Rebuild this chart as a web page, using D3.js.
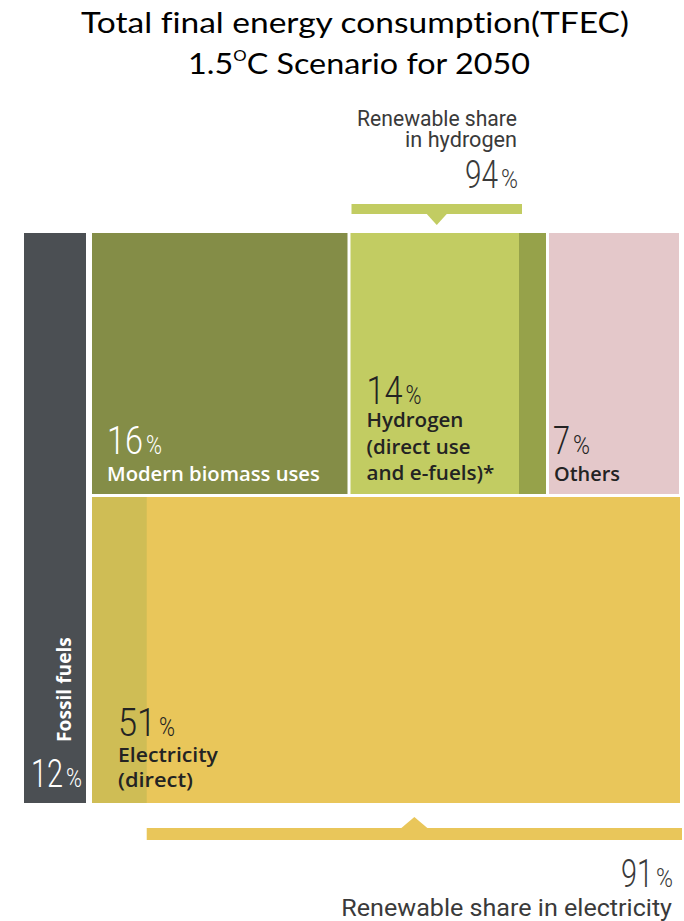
<!DOCTYPE html>
<html>
<head>
<meta charset="utf-8">
<script src="https://cdn.jsdelivr.net/npm/d3@7"></script>
<style>
  html, body { margin: 0; padding: 0; background: #fff; }
  svg { display: block; }
  text { font-variant-ligatures: none; font-feature-settings: "liga" 0, "clig" 0; }
</style>
</head>
<body>
<svg id="chart" width="684" height="921"></svg>
<script>
// Total final energy consumption by carrier, 2050 (percent of TFEC)
const categories = ["Fossil fuels", "Modern biomass uses", "Hydrogen", "Others", "Electricity"];
const shares = [12, 16, 14, 7, 51];
const labelLines = [
  ["Fossil fuels"],
  ["Modern biomass uses"],
  ["Hydrogen", "(direct use", "and e-fuels)*"],
  ["Others"],
  ["Electricity", "(direct)"]
];
// Renewable share inside the two energy carriers (percent)
const carriers = ["hydrogen", "electricity"];
const renewableShares = [94, 91];
const titleLines = ["Total final energy consumption(TFEC)", "1.5", "O", "C Scenario for 2050"];

const svg = d3.select("#chart");

const fillColors = {
  "Fossil fuels": "#4b4f53",
  "Modern biomass uses": "#848d47",
  "Hydrogen": "#c2cc62",
  "Others": "#e4c8ca",
  "Electricity": "#e9c65a"
};
const stripColors = { hydrogen: "#96a24a", electricity: "#cfbd55" };
const textDark = "#232323";
const numFont = "Roboto, 'Liberation Sans', sans-serif";
const labelFont = "'Open Sans', 'Liberation Sans', sans-serif";

// ---- layout scales -------------------------------------------------------
const gap = 3;
const fossilShare = shares[0];
const topShares = shares.slice(1, 4);
const topTotal = d3.sum(topShares);
const elecShare = shares[4];
const restTotal = topTotal + elecShare;

// fossil column on the left, everything else in the right block
const xOuter = d3.scaleLinear().domain([0, fossilShare, 100]).range([24, 89, 680]);
// right block: first row (biomass, hydrogen, others), second row electricity
const yRest = d3.scaleLinear().domain([0, topTotal, restTotal]).range([233, 495.5, 803]);
const topCum = [0, ...d3.cumsum(topShares)];
const xTop = d3.scaleLinear().domain(topCum).range([xOuter(fossilShare) + gap, 349, 547.5, xOuter(100) - 1]);

const blocks = [];
blocks.push({ name: categories[0], value: shares[0], x0: xOuter(0), x1: xOuter(fossilShare) - gap, y0: yRest(0), y1: yRest(restTotal) });
topShares.forEach((v, i) => {
  blocks.push({
    name: categories[i + 1], value: v,
    x0: xTop(topCum[i]) + (i > 0 ? gap / 2 : 0),
    x1: xTop(topCum[i + 1]) - (i < topShares.length - 1 ? gap / 2 : 0),
    y0: yRest(0), y1: yRest(topTotal) - gap / 2
  });
});
blocks.push({ name: categories[4], value: elecShare, x0: xOuter(fossilShare) + gap, x1: xOuter(100), y0: yRest(topTotal) + gap / 2, y1: yRest(restTotal) });

svg.append("g").selectAll("rect").data(blocks).join("rect")
  .attr("x", d => d.x0).attr("y", d => d.y0)
  .attr("width", d => d.x1 - d.x0).attr("height", d => d.y1 - d.y0)
  .attr("fill", d => fillColors[d.name]);

// ---- non-renewable strips inside hydrogen and electricity -----------------
const hyd = blocks[2], ele = blocks[4];
const minStrip = 27;
const xHyd = d3.scaleLinear().domain([0, 100]).range([hyd.x0, hyd.x1]);
const hydStripW = Math.max(xHyd(100) - xHyd(renewableShares[0]), minStrip);
const hydStrip = { x0: hyd.x1 - hydStripW, x1: hyd.x1, y0: hyd.y0, y1: hyd.y1 };
const xEle = d3.scaleLinear().domain([0, 100]).range([ele.x0, ele.x1 + 20]);
const eleStrip = { x0: ele.x0, x1: xEle(100 - renewableShares[1]), y0: ele.y0, y1: ele.y1 };

svg.append("g").selectAll("rect")
  .data([{ k: "hydrogen", ...hydStrip }, { k: "electricity", ...eleStrip }])
  .join("rect")
  .attr("x", d => d.x0).attr("y", d => d.y0)
  .attr("width", d => d.x1 - d.x0).attr("height", d => d.y1 - d.y0)
  .attr("fill", d => stripColors[d.k]);

// ---- brackets marking the renewable part ----------------------------------
function bracket(x0, x1, yBar, h, tip, half, dir, color) {
  const cx = (x0 + x1) / 2;
  const g = svg.append("g").attr("fill", color);
  g.append("rect").attr("x", x0).attr("y", yBar).attr("width", x1 - x0).attr("height", h);
  const baseY = dir > 0 ? yBar + h : yBar;
  g.append("path").attr("d", d3.line()([[cx - half, baseY], [cx, baseY + dir * tip], [cx + half, baseY]]) + "Z");
}
bracket(hyd.x0 + 1, hydStrip.x0 + 3, 204, 10, 11, 10, 1, fillColors["Hydrogen"]);
bracket(eleStrip.x1, ele.x1 + 2, 828, 12, 11, 13, -1, fillColors["Electricity"]);

// ---- text helpers ---------------------------------------------------------
// Text is laid out at the local origin and then placed with a transform;
// a horizontal scale narrows the glyphs to the wanted width.
function addText(opts) {
  const t = svg.append("text")
    .attr("x", 0).attr("y", 0)
    .attr("text-anchor", opts.anchor || "start")
    .attr("fill", opts.fill || textDark)
    .attr("font-family", opts.family || labelFont)
    .attr("font-weight", opts.weight || 400)
    .attr("font-size", opts.size || 20);
  (opts.parts || [{ text: opts.text }]).forEach(p => {
    const s = t.append("tspan").text(p.text);
    if (p.size) s.attr("font-size", p.size);
    if (p.dy) s.attr("dy", p.dy);
  });
  let sx = 1;
  if (opts.width) {
    const natural = t.node().getComputedTextLength();
    if (natural > 0) sx = opts.width / natural;
  }
  const rot = opts.rotate ? ` rotate(${opts.rotate})` : "";
  t.attr("transform", `translate(${opts.x},${opts.y})${rot} scale(${sx},1)`);
  return t;
}
// percentage figure: large light digits followed by a smaller percent sign
function pct(v, x, y, digitW, signW, fill, anchor) {
  const left = anchor === "end" ? x - digitW - signW - 3 : x;
  addText({ x: left, y, width: digitW, fill, family: numFont, weight: 300, size: 38, text: String(v) });
  addText({ x: left + digitW + 3, y, width: signW, fill, family: numFont, weight: 300, size: 26, text: "%" });
}

// ---- title ----------------------------------------------------------------
const titleFont = "Lato, 'Open Sans', sans-serif";
addText({ x: 355, y: 33, anchor: "middle", fill: "#000", family: titleFont, size: 29, width: 548, text: titleLines[0] });
addText({
  x: 359, y: 74, anchor: "middle", fill: "#000", family: titleFont, size: 29, width: 342,
  parts: [{ text: titleLines[1] }, { text: titleLines[2], size: 15, dy: -13 }, { text: titleLines[3], dy: 13 }]
});

// ---- block labels ---------------------------------------------------------
const white = "#ffffff";
// fossil fuels
pct(shares[0], blocks[0].x0 + 7, 787, 32, 16, white);
addText({ x: 71, y: 742, rotate: -90, fill: white, weight: 700, size: 19, width: 105, text: labelLines[0][0] });
// modern biomass
pct(shares[1], blocks[1].x0 + 15, 454, 36, 16, white);
addText({ x: blocks[1].x0 + 15, y: 481, fill: white, weight: 600, size: 20, width: 213, text: labelLines[1][0] });
// hydrogen
pct(shares[2], hyd.x0 + 16, 404, 36, 16, textDark);
const hydW = [97, 104, 128];
labelLines[2].forEach((line, i) => {
  addText({ x: hyd.x0 + 16, y: 427 + i * 26.5, weight: 600, size: 20, width: hydW[i], text: line });
});
// others
pct(shares[3], blocks[3].x0 + 4, 454, 17, 17, textDark);
addText({ x: blocks[3].x0 + 5, y: 481, weight: 600, size: 20, width: 66, text: labelLines[3][0] });
// electricity
pct(shares[4], ele.x0 + 26, 736, 38, 16, textDark);
const eleW = [100, 75];
labelLines[4].forEach((line, i) => {
  addText({ x: ele.x0 + 26, y: 762 + i * 25, weight: 600, size: 20, width: eleW[i], text: line });
});

// ---- renewable share annotations ------------------------------------------
const noteFill = "#3a3a3a";
addText({ x: 517, y: 126, anchor: "end", fill: noteFill, family: numFont, weight: 400, size: 22, width: 160, text: "Renewable share" });
addText({ x: 517, y: 147, anchor: "end", fill: noteFill, family: numFont, weight: 400, size: 22, width: 112, text: "in " + carriers[0] });
pct(renewableShares[0], 518, 188, 33, 17, noteFill, "end");

pct(renewableShares[1], 673, 887, 32, 17, noteFill, "end");
addText({ x: 672, y: 916, anchor: "end", fill: noteFill, family: numFont, weight: 400, size: 24, width: 331, text: "Renewable share in " + carriers[1] });
</script>
</body>
</html>
